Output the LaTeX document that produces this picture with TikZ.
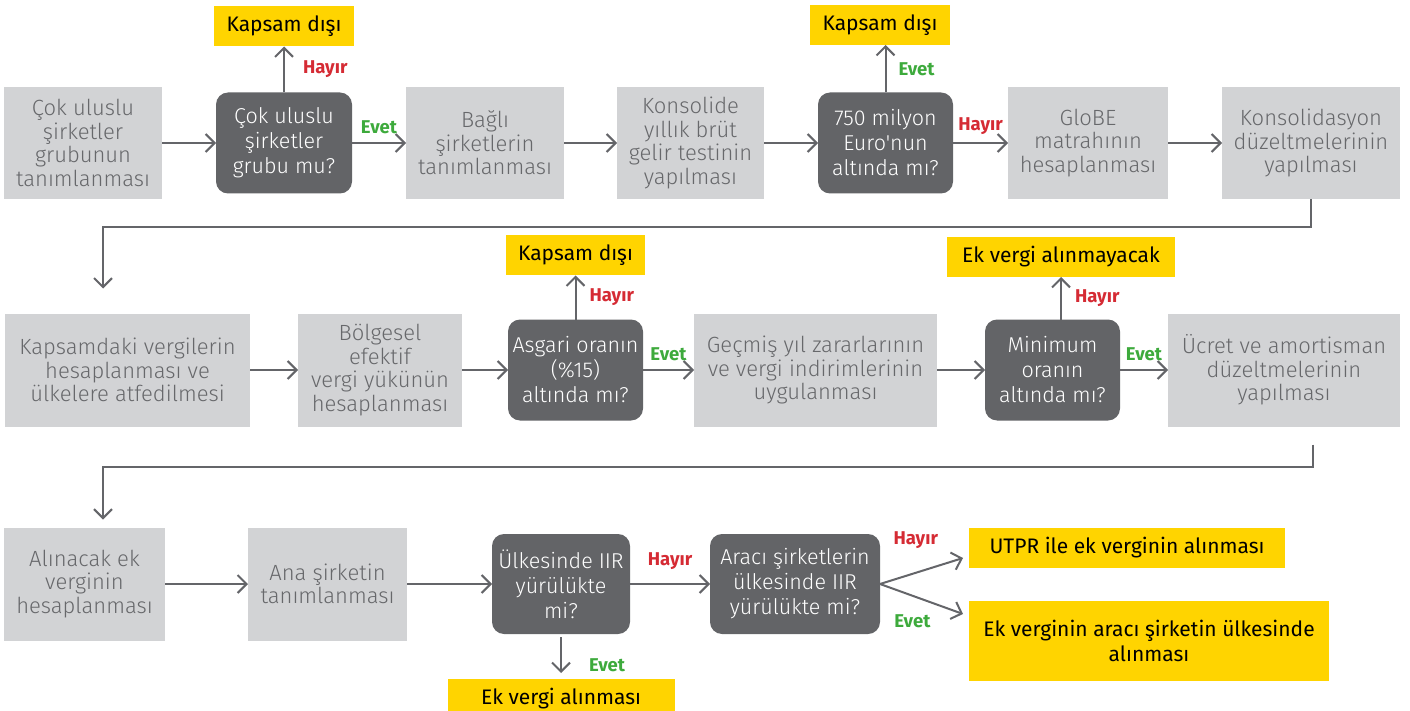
\documentclass[tikz,border=0pt]{standalone}
\usepackage{fontspec}
\setmainfont{Fira Sans}[Ligatures=TeXOff]
\newfontfamily\lightfont{Fira Sans Light}[Ligatures=TeXOff]
\usetikzlibrary{arrows.meta,positioning,calc}

\definecolor{boxgrey}{HTML}{D2D3D5}
\definecolor{txtgrey}{HTML}{67686B}
\definecolor{darkgrey}{HTML}{636467}
\definecolor{linegrey}{HTML}{646569}
\definecolor{eyyellow}{HTML}{FFD400}
\definecolor{nored}{HTML}{D52B34}
\definecolor{yesgreen}{HTML}{3DAA3C}

\begin{document}
\begin{tikzpicture}[
  x=1pt, y=-1pt,
  every node/.style={outer sep=0pt, inner sep=2pt},
  proc/.style={fill=boxgrey, text=txtgrey, align=center,
               font=\lightfont\fontsize{22}{23.5}\selectfont, minimum height=112pt},
  quest/.style={fill=darkgrey, text=white, align=center, rounded corners=12pt,
                font=\lightfont\fontsize{21.5}{25}\selectfont, minimum height=101pt},
  outcome/.style={fill=eyyellow, text=black, align=center,
                  font=\fontsize{21}{25}\selectfont, minimum height=40pt},
  arr/.style={draw=linegrey, line width=2pt,
              -{Straight Barb[length=9pt,width=18pt]}},
  hayir/.style={text=nored, font=\bfseries\fontsize{18.5}{18}\selectfont, inner sep=0pt},
  evet/.style={text=yesgreen, font=\bfseries\fontsize{18.5}{18}\selectfont, inner sep=0pt},
]
\useasboundingbox (0,0) rectangle (1410,711);

% row 1
\node[proc, minimum width=158pt] (g1) at (83,143) {Çok uluslu\\şirketler\\grubunun\\tanımlanması};
\node[quest, minimum width=136pt, right=54pt of g1] (d1) {Çok uluslu\\şirketler\\grubu mu?};
\node[outcome, minimum width=140pt, above=46pt of d1] (y1) {Kapsam dışı};
\node[proc, minimum width=158pt, right=54pt of d1] (g2) {Bağlı\\şirketlerin\\tanımlanması};
\node[proc, minimum width=147pt, right=53pt of g2] (g3) {Konsolide\\yıllık brüt\\gelir testinin\\yapılması};
\node[quest, minimum width=135pt, right=54pt of g3] (d2) {750 milyon\\Euro'nun\\altında mı?};
\node[outcome, minimum width=140pt] (y2) at (880,25) {Kapsam dışı};
\node[proc, minimum width=160pt, right=55pt of d2] (g4) {GloBE\\matrahının\\hesaplanması};
\node[proc, minimum width=178pt, right=54pt of g4] (g5) {Konsolidasyon\\düzeltmelerinin\\yapılması};

% row 2
\node[proc, minimum width=245pt, minimum height=113pt] (g6) at (127.5,370) {Kapsamdaki vergilerin\\hesaplanması ve\\ülkelere atfedilmesi};
\node[proc, minimum width=164pt, minimum height=113pt, right=48pt of g6] (g7) {Bölgesel\\efektif\\vergi yükünün\\hesaplanması};
\node[quest, minimum width=135pt, right=46pt of g7] (d3) {Asgari oranın\\(\%15)\\altında mı?};
\node[outcome, minimum width=139pt, above=44pt of d3] (y3) {Kapsam dışı};
\node[proc, minimum width=243pt, minimum height=113pt, right=51pt of d3] (g8) {Geçmiş yıl zararlarının\\ve vergi indirimlerinin\\uygulanması};
\node[quest, minimum width=135pt, right=48pt of g8] (d4) {Minimum\\oranın\\altında mı?};
\node[outcome, minimum width=228pt] (y4) at (1061,257) {Ek vergi alınmayacak};
\node[proc, minimum width=232pt, minimum height=113pt, right=48pt of d4] (g9) {Ücret ve amortisman\\düzeltmelerinin\\yapılması};

% row 3
\node[proc, minimum width=161pt, minimum height=113pt] (g10) at (84.5,584) {Alınacak ek\\verginin\\hesaplanması};
\node[proc, minimum width=159pt, minimum height=113pt, right=83pt of g10] (g11) {Ana şirketin\\tanımlanması};
\node[quest, minimum width=138pt, minimum height=100pt, right=85pt of g11] (d5) {Ülkesinde IIR\\yürülükte\\mi?};
\node[outcome, minimum width=227pt, below=45pt of d5] (y5) {Ek vergi alınması};
\node[quest, minimum width=170pt, minimum height=100pt, right=80pt of d5] (d6) {Aracı şirketlerin\\ülkesinde IIR\\yürülükte mi?};
\node[outcome, minimum width=316pt] (y6) at (1127,548) {UTPR ile ek verginin alınması};
\node[outcome, minimum width=360pt, minimum height=80pt] (y7) at (1149,641) {Ek verginin aracı şirketin ülkesinde\\alınması};

% connectors
\draw[arr] (g1) -- (d1);
\draw[arr] (d1) -- node[evet, above=9pt] {Evet} (g2);
\draw[arr] (d1) -- node[hayir, right=19pt] {Hayır} (y1);
\draw[arr] (g2) -- (g3);
\draw[arr] (g3) -- (d2);
\draw[arr] (d2) -- node[evet, right=13pt] {Evet} (d2 |- y2.south);
\draw[arr] (d2) -- node[hayir, above=8pt] {Hayır} (g4);
\draw[arr] (g4) -- (g5);
\draw[arr] (g5.south) -- ++(0,28) -| ([xshift=-24.5pt,yshift=25pt]g6.north);

\draw[arr] (g6) -- (g7);
\draw[arr] (g7) -- (d3);
\draw[arr] (d3) -- node[hayir, right=14pt] {Hayır} (y3);
\draw[arr] (d3) -- node[evet, above=9pt] {Evet} (g8);
\draw[arr] (g8) -- (d4);
\draw[arr] (d4.north -| y4.south) -- node[hayir, right=14pt] {Hayır} (y4.south);
\draw[arr] (d4) -- node[evet, above=9pt] {Evet} (g9);
\draw[arr] ([xshift=29pt,yshift=-18pt]g9.south) -- ++(0,22) -| ([xshift=18.5pt,yshift=8pt]g10.north);

\draw[arr] (g10) -- (g11);
\draw[arr] (g11) -- (d5);
\draw[arr] (d5) -- node[hayir, above=14pt] {Hayır} (d6);
\draw[arr, shorten <=3pt, shorten >=6pt] (d5) -- node[evet, pos=0.7, right=28pt] {Evet} (y5);
\draw[arr] (d6.east) -- node[hayir, pos=0.43, above=24pt] {Hayır} ([xshift=-6pt,yshift=-10pt]y6.west);
\draw[arr] (d6.east) -- node[evet, pos=0.39, below=19pt] {Evet} ([xshift=-6pt,yshift=27pt]y7.west);
\end{tikzpicture}
\end{document}
